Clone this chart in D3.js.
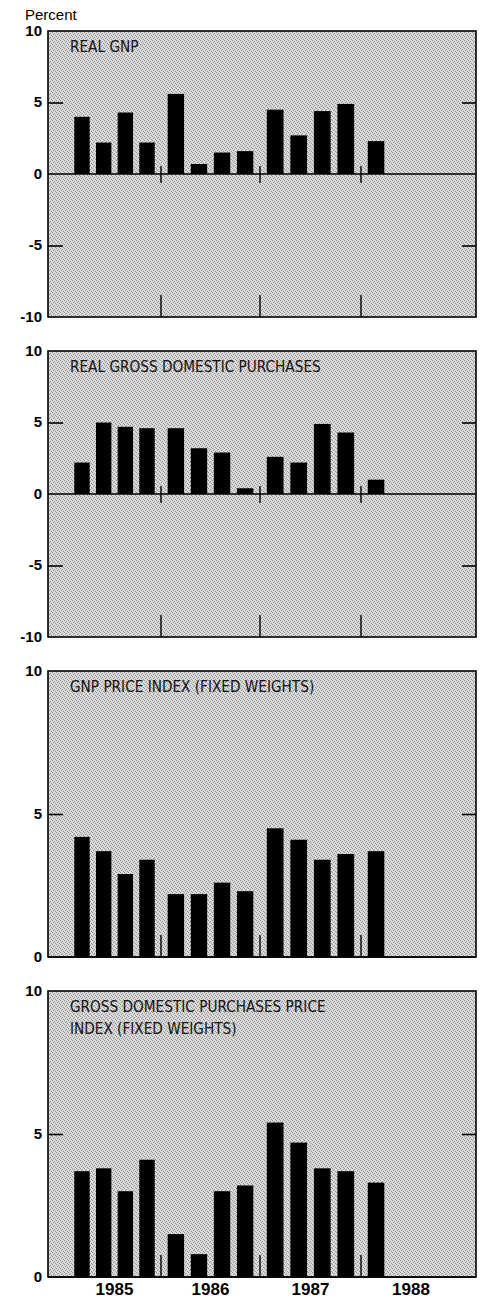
<!DOCTYPE html>
<html>
<head>
<meta charset="utf-8">
<script src="https://cdn.jsdelivr.net/npm/d3@7/dist/d3.min.js"></script>
<style>
  html, body { margin: 0; padding: 0; background: #fff; }
  svg { display: block; }
</style>
</head>
<body>
<svg id="chart" width="480" height="1298"></svg>
<script>
// ---- data ----
const years = [1985, 1986, 1987, 1988];
const quarters = ["1985Q1","1985Q2","1985Q3","1985Q4","1986Q1","1986Q2","1986Q3","1986Q4","1987Q1","1987Q2","1987Q3","1987Q4","1988Q1"];
const realGNP = [4.0, 2.2, 4.3, 2.2, 5.6, 0.7, 1.5, 1.6, 4.5, 2.7, 4.4, 4.9, 2.3];
const realGrossDomesticPurchases = [2.2, 5.0, 4.7, 4.6, 4.6, 3.2, 2.9, 0.4, 2.6, 2.2, 4.9, 4.3, 1.0];
const gnpPriceIndex = [4.2, 3.7, 2.9, 3.4, 2.2, 2.2, 2.6, 2.3, 4.5, 4.1, 3.4, 3.6, 3.7];
const gdpPriceIndex = [3.7, 3.8, 3.0, 4.1, 1.5, 0.8, 3.0, 3.2, 5.4, 4.7, 3.8, 3.7, 3.3];
const panelTitles = [
  ["REAL GNP"],
  ["REAL GROSS DOMESTIC PURCHASES"],
  ["GNP PRICE INDEX (FIXED WEIGHTS)"],
  ["GROSS DOMESTIC PURCHASES PRICE", "INDEX (FIXED WEIGHTS)"]
];
const panelDomains = [[-10, 10], [-10, 10], [0, 10], [0, 10]];
const panelTicks = [[-10, -5, 0, 5, 10], [-10, -5, 0, 5, 10], [0, 5, 10], [0, 5, 10]];
const panelValues = [realGNP, realGrossDomesticPurchases, gnpPriceIndex, gdpPriceIndex];

// ---- layout ----
const svg = d3.select("#chart");
const plotLeft = 48, plotRight = 476;
const firstTop = 31, panelStep = 320, panelH = 286;
const sansFont = "'Liberation Sans', Arial, Helvetica, sans-serif";
const narrowFont = "'Liberation Sans Narrow', 'Arial Narrow', 'DejaVu Sans Condensed', sans-serif";

// year scale (polylinear: the 1985 block is slightly narrower in the original)
const xYear = d3.scaleLinear()
  .domain([1985, 1986, 1987, 1988, 1989])
  .range([68, 161, 260, 361, 461]);

function quarterBand(year) {
  return d3.scaleBand().domain([0, 1, 2, 3])
    .range([xYear(year), xYear(year + 1)])
    .paddingInner(0.29).paddingOuter(0.29);
}

// stipple texture
const defs = svg.append("defs");
const pat = defs.append("pattern").attr("id", "stipple")
  .attr("patternUnits", "userSpaceOnUse").attr("width", 4).attr("height", 4);
pat.append("rect").attr("width", 4).attr("height", 4).attr("fill", "#dcdcdc");
[[0,0],[2,1],[1,2],[3,3]].forEach(([px, py]) =>
  pat.append("rect").attr("x", px).attr("y", py).attr("width", 1).attr("height", 1).attr("fill", "#8c8c8c"));

// "Percent" label
svg.append("text").attr("x", 25).attr("y", 20)
  .attr("font-family", sansFont).attr("font-size", 15).attr("fill", "#000")
  .text("Percent");

panelValues.forEach((vals, p) => {
  const top = firstTop + p * panelStep;
  const bottom = top + panelH;
  const y = d3.scaleLinear().domain(panelDomains[p]).range([bottom, top]);
  const g = svg.append("g");

  // background
  g.append("rect").attr("x", plotLeft).attr("y", top)
    .attr("width", plotRight - plotLeft).attr("height", panelH)
    .attr("fill", "url(#stipple)");

  // bars
  g.selectAll("rect.bar").data(vals).enter().append("rect")
    .attr("class", "bar")
    .attr("x", (d, i) => quarterBand(years[0] + Math.floor(i / 4))(i % 4))
    .attr("width", (d, i) => quarterBand(years[0] + Math.floor(i / 4)).bandwidth())
    .attr("y", d => y(Math.max(0, d)))
    .attr("height", d => Math.abs(y(d) - y(0)))
    .attr("fill", "#000");

  // zero line
  g.append("line").attr("x1", plotLeft).attr("x2", plotRight)
    .attr("y1", y(0)).attr("y2", y(0))
    .attr("stroke", "#000").attr("stroke-width", 1.6);

  // inner y ticks (left and right)
  const inner = panelTicks[p].filter(t => t !== panelDomains[p][0] && t !== panelDomains[p][1] && t !== 0);
  const yAxisL = d3.axisRight(y).tickValues(inner).tickSize(15).tickFormat("");
  const yAxisR = d3.axisLeft(y).tickValues(inner).tickSize(14).tickFormat("");
  [g.append("g").attr("transform", `translate(${plotLeft},0)`).call(yAxisL),
   g.append("g").attr("transform", `translate(${plotRight},0)`).call(yAxisR)]
    .forEach(ax => {
      ax.select(".domain").remove();
      ax.selectAll("line").attr("stroke", "#000").attr("stroke-width", 1.6);
    });

  // y tick labels
  g.selectAll("text.ytick").data(panelTicks[p]).enter().append("text")
    .attr("class", "ytick")
    .attr("x", 42).attr("y", d => y(d) + 1)
    .attr("text-anchor", "end").attr("dominant-baseline", "middle")
    .attr("font-family", sansFont).attr("font-size", 15).attr("font-weight", "bold")
    .attr("fill", "#000")
    .text(d => d);

  // year ticks: bottom, rising
  const yearTicks = [1986, 1987, 1988];
  g.selectAll("line.ybot").data(yearTicks).enter().append("line")
    .attr("x1", d => xYear(d)).attr("x2", d => xYear(d))
    .attr("y1", bottom).attr("y2", bottom - 22)
    .attr("stroke", "#000").attr("stroke-width", 1.4);
  // year ticks crossing zero line (only when zero is inside)
  if (panelDomains[p][0] < 0) {
    g.selectAll("line.yzero").data(yearTicks).enter().append("line")
      .attr("x1", d => xYear(d)).attr("x2", d => xYear(d))
      .attr("y1", y(0) - 8).attr("y2", y(0) + 9)
      .attr("stroke", "#000").attr("stroke-width", 1.4);
  }

  // frame
  g.append("rect").attr("x", plotLeft).attr("y", top)
    .attr("width", plotRight - plotLeft).attr("height", panelH)
    .attr("fill", "none").attr("stroke", "#000").attr("stroke-width", 1.6);

  // title
  const t = g.append("text").attr("font-family", narrowFont).attr("font-size", 15.2)
    .attr("fill", "#111");
  panelTitles[p].forEach((line, k) => {
    t.append("tspan").attr("x", 70).attr("y", top + 21 + k * 22).text(line);
  });

  // year labels on last panel
  if (p === panelValues.length - 1) {
    g.selectAll("text.year").data(years).enter().append("text")
      .attr("x", d => xYear(d + 0.5)).attr("y", bottom + 18)
      .attr("text-anchor", "middle")
      .attr("font-family", sansFont).attr("font-size", 17).attr("font-weight", "bold")
      .attr("fill", "#000")
      .text(d => d);
  }
});
</script>
</body>
</html>
